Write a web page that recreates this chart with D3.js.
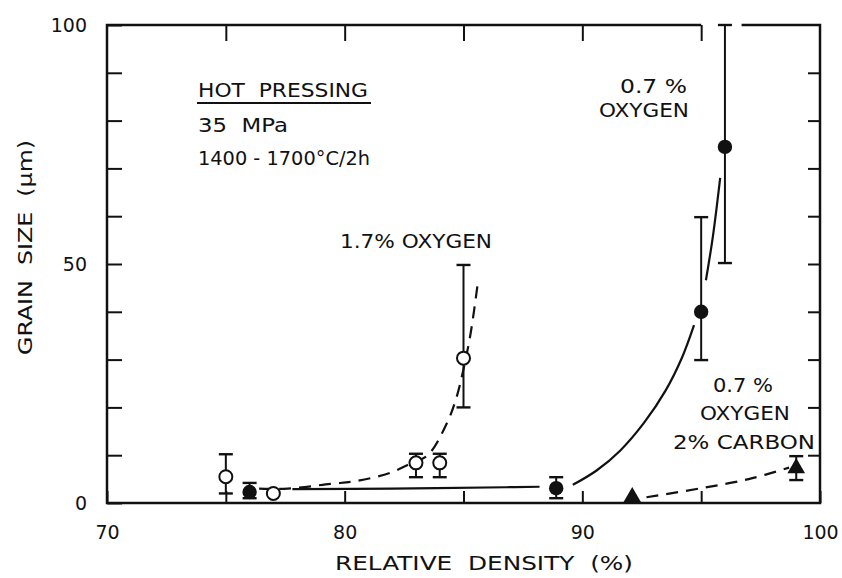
<!DOCTYPE html>
<html><head><meta charset="utf-8">
<script src="https://cdn.jsdelivr.net/npm/d3@7"></script>
<style>
html,body{margin:0;padding:0;background:#fff;}
svg text{font-family:"DejaVu Sans",sans-serif;fill:#111;}
</style></head>
<body><svg id="c" width="842" height="578"></svg>
<script>
// ---- data ----
const xTicks = [70, 75, 80, 85, 90, 95, 100];
const xLabels = [70, 80, 90, 100];
const yTicks = [0, 10, 20, 30, 40, 50, 60, 70, 80, 90, 100];
const yLabels = [0, 50, 100];

// 1.7 % oxygen (open circles)
const o17Density = [75, 77, 83, 84, 85];
const o17Grain   = [5.5, 2.0, 8.4, 8.4, 30.3];
const o17Low     = [2.0, null, 5.4, 5.4, 20];
const o17High    = [10.2, null, 10.3, 10.3, 49.8];

// 0.7 % oxygen (filled circles)
const o07Density = [76, 88.9, 95, 96];
const o07Grain   = [2.3, 3.1, 40, 74.5];
const o07Low     = [1.0, 1.0, 29.9, 50.2];
const o07High    = [4.2, 5.4, 59.8, 100];

// 0.7 % oxygen + 2 % carbon (triangles)
const cDensity = [92.1, 99];
const cGrain   = [1.2, 7.3];
const cLow     = [null, 4.8];
const cHigh    = [null, 9.8];

// trend curves (density, grain size)
const curve07a = [[77.8, 2.9], [82, 3.0], [86.8, 3.3], [88.2, 3.4]];
const curve07b = [[89.6, 3.8], [90.6, 6.8], [91.6, 11.0], [92.6, 16.8], [93.5, 23.5], [94.2, 30.5], [94.7, 37.2]];
const curve07c = [[95.2, 46.6], [95.5, 56], [95.8, 68]];
const curve17  = [[76.4, 3.0], [77.6, 3.0], [79.4, 4.0], [80.5, 4.6], [81.9, 6.3], [82.8, 8.3], [83.5, 10.0], [84.3, 16.7], [84.7, 22], [85.0, 28], [85.3, 35.5], [85.6, 46]];
const curveC   = [[92.7, 1.2], [95, 3.1], [97, 5.0], [98.7, 7.4]];

// ---- drawing ----
const svg = d3.select("#c");
const x = d3.scaleLinear().domain([70, 100]).range([107, 820]);
const y = d3.scaleLinear().domain([0, 100]).range([503, 25]);
const ink = "#111";

// frame (top edge broken where the error bar passes)
const frame = svg.append("g").attr("fill", "none").attr("stroke", ink).attr("stroke-width", 2.5);
frame.append("path").attr("d", d3.line()([
  [x(95), y(100)], [x(70), y(100)], [x(70), y(0)], [x(100), y(0)], [x(100), y(100)], [x(96.7), y(100)]
]));

// axes
function styleAxis(g){
  g.select(".domain").remove();
  g.selectAll(".tick line").attr("stroke", ink).attr("stroke-width", 2);
  g.selectAll(".tick text").attr("font-size", 19).attr("fill", ink)
    .style("font-family", '"DejaVu Sans",sans-serif');
}
svg.append("g").attr("transform", `translate(${x(70)},0)`)
  .call(d3.axisLeft(y).tickValues(yTicks).tickSize(-15).tickPadding(20)
    .tickFormat(d => yLabels.includes(d) ? d : ""))
  .call(styleAxis);
svg.append("g").attr("transform", `translate(${x(100)},0)`)
  .call(d3.axisRight(y).tickValues(yTicks.filter(d => d > 0 && d < 100)).tickSize(-12).tickFormat(""))
  .call(styleAxis);
svg.append("g").attr("transform", `translate(0,${y(0)})`)
  .call(d3.axisBottom(x).tickValues(xTicks).tickSize(-12).tickPadding(23)
    .tickFormat(d => xLabels.includes(d) ? d : ""))
  .call(styleAxis);
svg.append("g").attr("transform", `translate(0,${y(100)})`)
  .call(d3.axisTop(x).tickValues(xTicks.filter(d => d > 70 && d < 100)).tickSize(-16).tickFormat(""))
  .call(styleAxis);

// curves
const line = d3.line().x(d => x(d[0])).y(d => y(d[1])).curve(d3.curveCatmullRom.alpha(0.5));
const curves = svg.append("g").attr("fill", "none").attr("stroke", ink).attr("stroke-width", 2.2);
[curve07a, curve07b, curve07c].forEach(c => curves.append("path").attr("d", line(c)));
[curve17, curveC].forEach(c => curves.append("path").attr("d", line(c)).attr("stroke-dasharray", "12 8"));

// error bars
function errorBars(dens, lo, hi){
  const g = svg.append("g").attr("stroke", ink).attr("stroke-width", 2);
  dens.forEach((d, i) => {
    if (lo[i] == null) return;
    g.append("line").attr("x1", x(d)).attr("x2", x(d)).attr("y1", y(lo[i])).attr("y2", y(hi[i]));
    [lo[i], hi[i]].forEach(v => g.append("line")
      .attr("x1", x(d) - 7).attr("x2", x(d) + 7).attr("y1", y(v)).attr("y2", y(v)).attr("stroke-width", 2.4));
  });
}
errorBars(o17Density, o17Low, o17High);
errorBars(o07Density, o07Low, o07High);
errorBars(cDensity, cLow, cHigh);

// markers
svg.append("g").selectAll("circle").data(o17Density).join("circle")
  .attr("cx", d => x(d)).attr("cy", (d, i) => y(o17Grain[i])).attr("r", 6.5)
  .attr("fill", "#fff").attr("stroke", ink).attr("stroke-width", 2);
svg.append("g").selectAll("circle").data(o07Density).join("circle")
  .attr("cx", d => x(d)).attr("cy", (d, i) => y(o07Grain[i])).attr("r", 7.2)
  .attr("fill", ink);
svg.append("g").selectAll("path").data(cDensity).join("path")
  .attr("d", d3.symbol(d3.symbolTriangle, 135))
  .attr("transform", (d, i) => `translate(${x(d)},${y(cGrain[i])})`)
  .attr("fill", ink);

// texts
function label(txt, px, py, len, anchor){
  return svg.append("text").attr("x", px).attr("y", py).attr("font-size", 19)
    .attr("text-anchor", anchor || "start")
    .attr("textLength", len).attr("lengthAdjust", "spacingAndGlyphs").text(txt);
}
label("HOT  PRESSING", 198, 97, 170).style("white-space", "pre");
svg.append("line").attr("x1", 197).attr("x2", 371).attr("y1", 103).attr("y2", 103)
  .attr("stroke", ink).attr("stroke-width", 2);
label("35  MPa", 198, 132, 90).style("white-space", "pre");
label("1400 - 1700°C/2h", 198, 165, 172);
label("1.7% OXYGEN", 340, 248, 152);
label("0.7 %", 620, 93, 67);
label("OXYGEN", 599, 117, 90);
label("0.7 %", 713, 392, 60);
label("OXYGEN", 700, 420, 90);
label("2% CARBON", 673, 449, 142);
label("RELATIVE  DENSITY  (%)", 335, 570, 298).style("white-space", "pre");
svg.append("text").attr("transform", "translate(32,355) rotate(-90)")
  .attr("font-size", 19).attr("textLength", 215).attr("lengthAdjust", "spacingAndGlyphs")
  .style("white-space", "pre").text("GRAIN  SIZE  (μm)");
</script>
</body></html>
